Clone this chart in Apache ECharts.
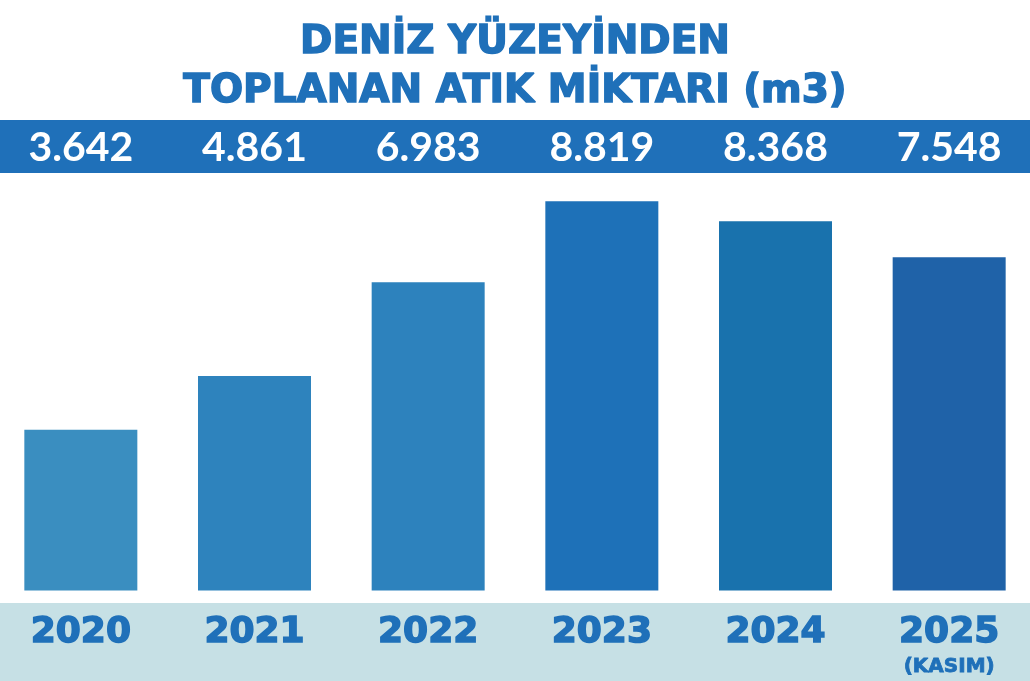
<!DOCTYPE html>
<html>
<head>
<meta charset="utf-8">
<script src="https://cdn.jsdelivr.net/npm/echarts@6/dist/echarts.min.js"></script>
<style>
  html, body { margin: 0; padding: 0; background: #ffffff; overflow: hidden; }
  /* a bit wider than the window so the outer bars sit where the original has them */
  #chart { width: 1042px; height: 681px; margin-left: -6px; }
</style>
</head>
<body>
<div id="chart"></div>
<script>
// data
var years = ['2020', '2021', '2022', '2023', '2024', '2025'];
var yearNotes = ['', '', '', '', '', '(KASIM)'];
var values = [3642, 4861, 6983, 8819, 8368, 7548];

var barColors = ['#3a8ec0', '#2e83bd', '#2d82bd', '#1e71b8', '#1972ad', '#1f62a8'];
var blue = '#1f70b9';
var heavy = 'DejaVu Sans';

// 3642 -> "3.642"
var fmt = function(n) {
  return String(n).replace(/\B(?=(\d{3})+(?!\d))/g, '.');
};

var chart = echarts.init(document.getElementById('chart'));

chart.setOption({
  backgroundColor: '#ffffff',
  animation: false,
  title: {
    text: 'DENİZ YÜZEYİNDEN\nTOPLANAN ATIK MİKTARI (m3)',
    left: 'center',
    top: 13,
    textStyle: {
      fontFamily: heavy,
      fontWeight: 'bold',
      fontSize: 39,
      lineHeight: 49,
      color: blue,
      textBorderColor: blue,
      textBorderWidth: 1.5
    }
  },
  graphic: [
    { type: 'rect', z: -10, shape: { x: 0, y: 120, width: 1042, height: 53 }, style: { fill: blue } },
    { type: 'rect', z: -10, shape: { x: 0, y: 603, width: 1042, height: 78 }, style: { fill: '#c6e0e5' } }
  ],
  grid: {
    left: 0,
    right: 0,
    top: 180,
    bottom: 90.5
  },
  xAxis: [
    {
      type: 'category',
      data: years,
      position: 'bottom',
      axisLine: { show: false },
      axisTick: { show: false },
      axisLabel: {
        margin: 22,
        verticalAlign: 'top',
        formatter: function(v, i) {
          return yearNotes[i] ? '{y|' + v + '}\n{k|' + yearNotes[i] + '}' : '{y|' + v + '}';
        },
        rich: {
          y: { fontFamily: heavy, fontWeight: 'bold', fontSize: 36, lineHeight: 40, color: blue,
               textBorderColor: blue, textBorderWidth: 1.5 },
          k: { fontFamily: heavy, fontWeight: 'bold', fontSize: 20, lineHeight: 28, color: blue,
               textBorderColor: blue, textBorderWidth: 0.8 }
        }
      }
    },
    {
      type: 'category',
      data: years,
      position: 'top',
      axisLine: { show: false },
      axisTick: { show: false },
      axisLabel: {
        margin: 32,
        verticalAlign: 'middle',
        fontFamily: 'Lato',
        fontWeight: 'bold',
        fontSize: 41,
        color: '#ffffff',
        formatter: function(v, i) { return fmt(values[i]); }
      }
    }
  ],
  yAxis: {
    type: 'value',
    min: 0,
    max: 9300,
    show: false,
    splitLine: { show: false }
  },
  series: [{
    type: 'bar',
    xAxisIndex: 0,
    barWidth: 113,
    data: values.map(function(v, i) {
      return { value: v, itemStyle: { color: barColors[i] } };
    })
  }]
});
</script>
</body>
</html>
